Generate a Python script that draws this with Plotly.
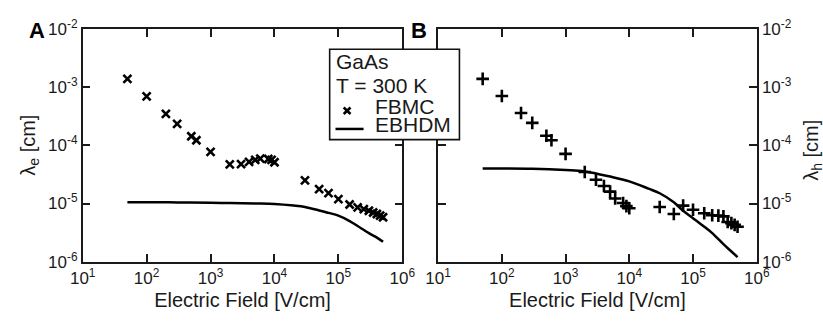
import plotly.graph_objects as go

# Electric field values [V/cm] of the FBMC points (shared by both panels)
field_fbmc = [50, 100, 200, 300, 500, 600, 1000, 2000, 3000, 4000, 5000, 6000,
              8000, 9000, 10000, 3e4, 5e4, 7e4, 1e5, 1.5e5, 2e5, 2.5e5, 3e5,
              3.5e5, 4e5, 4.5e5, 5e5]
# Panel A: electron mean free path, FBMC [cm]
lam_e_fbmc = [1.38e-3, 6.9e-4, 3.46e-4, 2.33e-4, 1.43e-4, 1.22e-4, 7.7e-5,
              4.7e-5, 4.75e-5, 5.2e-5, 5.6e-5, 5.9e-5, 5.8e-5, 5.6e-5, 5.1e-5,
              2.5e-5, 1.77e-5, 1.51e-5, 1.19e-5, 9.6e-6, 8.6e-6, 8.0e-6,
              7.5e-6, 7.0e-6, 6.6e-6, 6.2e-6, 5.8e-6]
# Panel B: hole mean free path, FBMC [cm]
lam_h_fbmc = [1.38e-3, 7.0e-4, 3.59e-4, 2.42e-4, 1.46e-4, 1.22e-4, 7.1e-5,
              3.47e-5, 2.56e-5, 2.0e-5, 1.6e-5, 1.22e-5, 1.02e-5, 9.0e-6,
              8.3e-6, 8.7e-6, 6.6e-6, 9.2e-6, 7.8e-6, 6.8e-6, 6.3e-6, 6.2e-6,
              6.0e-6, 4.8e-6, 4.6e-6, 4.3e-6, 4.0e-6]

# EBHDM model curves
field_model = [50, 100, 300, 1000, 2000, 5000, 1e4, 2e4, 3e4, 5e4, 7e4, 1e5,
               1.5e5, 2e5, 3e5, 4e5, 5e5]
lam_e_model = [1.05e-5, 1.05e-5, 1.045e-5, 1.03e-5, 1.02e-5, 1.0e-5, 9.8e-6,
               9.2e-6, 8.7e-6, 7.6e-6, 6.9e-6, 6.2e-6, 5.0e-6, 4.1e-6,
               3.1e-6, 2.6e-6, 2.2e-6]
lam_h_model = [4.0e-5, 4.0e-5, 3.95e-5, 3.75e-5, 3.55e-5, 2.9e-5, 2.4e-5,
               1.8e-5, 1.5e-5, 1.05e-5, 7.5e-6, 5.6e-6, 4.0e-6, 3.1e-6,
               2.0e-6, 1.5e-6, 1.2e-6]

x_tickvals = [1e1, 1e2, 1e3, 1e4, 1e5, 1e6]
x_ticktext = ["10<sup>1</sup>", "10<sup>2</sup>", "10<sup>3</sup>",
              "10<sup>4</sup>", "10<sup>5</sup>", "10<sup>6</sup>"]
y_tickvals = [1e-6, 1e-5, 1e-4, 1e-3, 1e-2]
y_ticktext = ["10<sup>-6</sup>", "10<sup>-5</sup>", "10<sup>-4</sup>",
              "10<sup>-3</sup>", "10<sup>-2</sup>"]

legend_title_lines = ["GaAs", "T = 300 K"]
legend_names = ["FBMC", "EBHDM"]

FONT = "Liberation Sans, Arial, sans-serif"
INK = "#1a1a1a"
W, H = 823, 323


def px(x):
    return x / W


def py(y):
    return 1 - y / H


fig = go.Figure()

fig.add_trace(go.Scatter(
    x=field_fbmc, y=lam_e_fbmc, mode="markers", name=legend_names[0],
    marker=dict(symbol="x-thin-open", size=8, color="black",
                line=dict(width=2.6, color="black")),
    xaxis="x", yaxis="y"))
fig.add_trace(go.Scatter(
    x=field_model, y=lam_e_model, mode="lines", name=legend_names[1],
    line=dict(color="black", width=2.5, shape="spline"),
    xaxis="x", yaxis="y"))
fig.add_trace(go.Scatter(
    x=field_fbmc, y=lam_h_fbmc, mode="markers", name="FBMC (holes)",
    marker=dict(symbol="cross-thin-open", size=9, color="black",
                line=dict(width=2.6, color="black")),
    xaxis="x2", yaxis="y2"))
fig.add_trace(go.Scatter(
    x=field_model, y=lam_h_model, mode="lines", name="EBHDM (holes)",
    line=dict(color="black", width=2.5, shape="spline"),
    xaxis="x2", yaxis="y2"))

ydom = [py(268), py(18)]
common_x = dict(type="log", range=[1, 6], tickvals=x_tickvals,
                ticktext=x_ticktext, ticks="inside", ticklen=8, tickwidth=1.5,
                tickcolor=INK, showline=True, linecolor=INK,
                linewidth=1.5, mirror="ticks", showgrid=False, zeroline=False,
                tickfont=dict(size=17, color=INK, family=FONT),
                title=dict(text="Electric Field [V/cm]",
                           font=dict(size=20, color=INK, family=FONT),
                           standoff=6))
common_y = dict(type="log", range=[-6, -2], tickvals=y_tickvals,
                ticktext=y_ticktext, ticks="inside", ticklen=8, tickwidth=1.5,
                tickcolor=INK, showline=True, linecolor=INK,
                linewidth=1.5, mirror="ticks", showgrid=False, zeroline=False,
                tickfont=dict(size=17, color=INK, family=FONT),
                domain=ydom)

shapes = [
    # legend box
    dict(type="rect", xref="paper", yref="paper", x0=px(327), x1=px(461),
         y0=py(137), y1=py(40), line=dict(color="#111", width=1.6),
         fillcolor="white", layer="above"),
    # legend key: x marker
    dict(type="line", xref="paper", yref="paper", x0=px(341.5), x1=px(348.5),
         y0=py(102.5), y1=py(109.5), line=dict(color="black", width=2.6),
         layer="above"),
    dict(type="line", xref="paper", yref="paper", x0=px(341.5), x1=px(348.5),
         y0=py(109.5), y1=py(102.5), line=dict(color="black", width=2.6),
         layer="above"),
    # legend key: line
    dict(type="line", xref="paper", yref="paper", x0=px(333), x1=px(362),
         y0=py(125.5), y1=py(125.5), line=dict(color="black", width=2.5),
         layer="above"),
]

ann_font = dict(size=21, color=INK, family=FONT)
annotations = [
    dict(text="<b>A</b>", x=px(25), y=py(20), xref="paper", yref="paper",
         showarrow=False, xanchor="center", yanchor="middle",
         font=dict(size=22, color="black", family=FONT)),
    dict(text="<b>B</b>", x=px(419), y=py(20), xref="paper", yref="paper",
         showarrow=False, xanchor="center", yanchor="middle",
         font=dict(size=22, color="black", family=FONT)),
    dict(text="λ<sub>e</sub> [cm]", x=px(17), y=py(143), xref="paper",
         yref="paper", showarrow=False, textangle=-90, xanchor="center",
         yanchor="middle", font=dict(size=20, color=INK, family=FONT)),
    dict(text="λ<sub>h</sub> [cm]", x=px(826), y=py(148), xref="paper",
         yref="paper", showarrow=False, textangle=-90, xanchor="center",
         yanchor="middle", font=dict(size=20, color=INK, family=FONT)),
    dict(text=legend_title_lines[0], x=px(331), y=py(53), xref="paper",
         yref="paper", showarrow=False, xanchor="left", yanchor="middle",
         font=ann_font),
    dict(text=legend_title_lines[1], x=px(331), y=py(78.5), xref="paper",
         yref="paper", showarrow=False, xanchor="left", yanchor="middle",
         font=ann_font),
    dict(text=legend_names[0], x=px(372), y=py(101), xref="paper",
         yref="paper", showarrow=False, xanchor="left", yanchor="middle",
         font=ann_font),
    dict(text=legend_names[1], x=px(372), y=py(120.5), xref="paper",
         yref="paper", showarrow=False, xanchor="left", yanchor="middle",
         font=ann_font),
]

fig.update_layout(
    width=W, height=H,
    margin=dict(l=0, r=0, t=0, b=0),
    paper_bgcolor="white", plot_bgcolor="white",
    font=dict(family=FONT, color=INK),
    xaxis=dict(common_x, domain=[px(72), px(402)], anchor="y"),
    yaxis=dict(common_y, anchor="x"),
    xaxis2=dict(common_x, domain=[px(439), px(768)], anchor="y2"),
    yaxis2=dict(common_y, anchor="x2", side="right"),
    showlegend=False,
    shapes=shapes,
    annotations=annotations,
)

fig.write_html("out.html")
